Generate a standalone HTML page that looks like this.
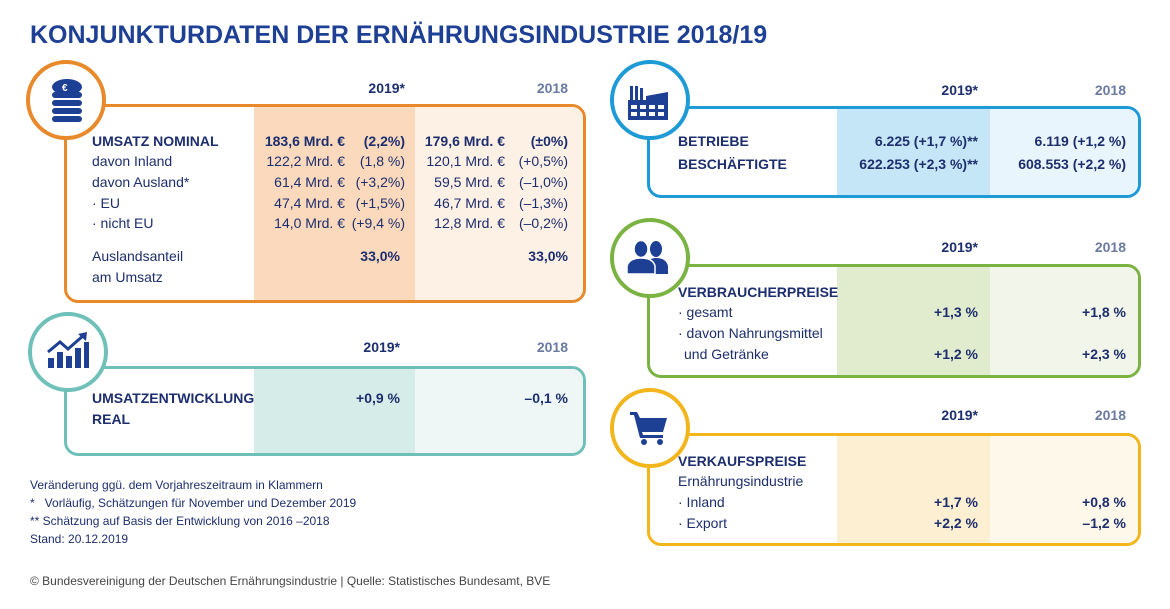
<!DOCTYPE html>
<html><head><meta charset="utf-8"><style>
body{margin:0;width:1170px;height:609px;background:#fff;position:relative;overflow:hidden;font-family:"Liberation Sans",sans-serif;color:#1d2e6e}
.a{position:absolute;white-space:nowrap;font-size:14px;line-height:18px}
.b{font-weight:bold}
.r{text-align:right}
.box{position:absolute;border:3px solid;border-radius:14px;overflow:hidden;box-sizing:border-box}
.col{position:absolute;top:0;bottom:0}
.circ{position:absolute;width:80px;height:80px;border-radius:50%;border:4px solid;background:#fff;box-sizing:border-box}
.h19{font-weight:bold;color:#1d2e6e}
.h18{font-weight:bold;color:#6a7aa0}
</style></head><body>
<div class="a b" style="left:30px;top:21px;font-size:25px;line-height:28px;color:#1d3f94">KONJUNKTURDATEN DER ERNÄHRUNGSINDUSTRIE 2018/19</div>

<!-- Box 1 -->
<div class="box" style="left:64px;top:104px;width:522px;height:199px;border-color:#e8892b">
 <div class="col" style="left:187px;width:161px;background:#fbd9bd"></div>
 <div class="col" style="left:348px;right:0;background:#fdf0e4"></div>
</div>
<div class="circ" style="left:26px;top:60px;border-color:#e8892b"></div>
<svg style="position:absolute;left:46px;top:78px" width="42" height="46" viewBox="0 0 42 46"><g fill="#1d3f94"><ellipse cx="21" cy="9" rx="15" ry="8"/><rect x="6" y="14" width="30" height="6" rx="3"/><rect x="6" y="22" width="30" height="6" rx="3"/><rect x="6" y="30" width="30" height="6" rx="3"/><rect x="6" y="38" width="30" height="6" rx="3"/></g><text x="16" y="13" fill="#fff" font-size="10" font-weight="bold" font-family="Liberation Sans">€</text></svg>
<div class="a h19 r" style="left:300px;width:105px;top:79px">2019*</div>
<div class="a h18 r" style="left:470px;width:98px;top:79px">2018</div>
<div class="a b" style="left:92px;top:132px">UMSATZ NOMINAL</div>
<div class="a" style="left:92px;top:152px">davon Inland</div>
<div class="a" style="left:92px;top:173px">davon Ausland*</div>
<div class="a" style="left:92px;top:194px">· EU</div>
<div class="a" style="left:92px;top:214px">· nicht EU</div>
<div class="a" style="left:92px;top:247px">Auslandsanteil</div>
<div class="a" style="left:92px;top:268px">am Umsatz</div>
<div class="a r b" style="left:240px;width:105px;top:132px">183,6 Mrd. €</div>
<div class="a r" style="left:240px;width:105px;top:152px">122,2 Mrd. €</div>
<div class="a r" style="left:240px;width:105px;top:173px">61,4 Mrd. €</div>
<div class="a r" style="left:240px;width:105px;top:194px">47,4 Mrd. €</div>
<div class="a r" style="left:240px;width:105px;top:214px">14,0 Mrd. €</div>
<div class="a r b" style="left:345px;width:60px;top:132px">(2,2%)</div>
<div class="a r" style="left:345px;width:60px;top:152px">(1,8 %)</div>
<div class="a r" style="left:345px;width:60px;top:173px">(+3,2%)</div>
<div class="a r" style="left:345px;width:60px;top:194px">(+1,5%)</div>
<div class="a r" style="left:345px;width:60px;top:214px">(+9,4 %)</div>
<div class="a r b" style="left:330px;width:70px;top:247px">33,0%</div>
<div class="a r b" style="left:400px;width:105px;top:132px">179,6 Mrd. €</div>
<div class="a r" style="left:400px;width:105px;top:152px">120,1 Mrd. €</div>
<div class="a r" style="left:400px;width:105px;top:173px">59,5 Mrd. €</div>
<div class="a r" style="left:400px;width:105px;top:194px">46,7 Mrd. €</div>
<div class="a r" style="left:400px;width:105px;top:214px">12,8 Mrd. €</div>
<div class="a r b" style="left:505px;width:63px;top:132px">(±0%)</div>
<div class="a r" style="left:505px;width:63px;top:152px">(+0,5%)</div>
<div class="a r" style="left:505px;width:63px;top:173px">(–1,0%)</div>
<div class="a r" style="left:505px;width:63px;top:194px">(–1,3%)</div>
<div class="a r" style="left:505px;width:63px;top:214px">(–0,2%)</div>
<div class="a r b" style="left:490px;width:78px;top:247px">33,0%</div>

<!-- Box 2 -->
<div class="box" style="left:64px;top:366px;width:522px;height:90px;border-color:#6fc0b8">
 <div class="col" style="left:187px;width:161px;background:#d6ece9"></div>
 <div class="col" style="left:348px;right:0;background:#eef7f5"></div>
</div>
<div class="circ" style="left:28px;top:312px;border-color:#6fc0b8"></div>
<svg style="position:absolute;left:46px;top:332px" width="44" height="38" viewBox="0 0 44 38"><g fill="#1d3f94"><rect x="2" y="26" width="6" height="10"/><rect x="11" y="20" width="6" height="16"/><rect x="20" y="24" width="6" height="12"/><rect x="29" y="16" width="6" height="20"/><rect x="38" y="10" width="5" height="26"/><polyline points="2,20 14,10 22,17 38,3" fill="none" stroke="#1d3f94" stroke-width="3"/><polygon points="32,2 41,0 40,9"/></g></svg>
<div class="a h19 r" style="left:300px;width:100px;top:338px">2019*</div>
<div class="a h18 r" style="left:470px;width:98px;top:338px">2018</div>
<div class="a b" style="left:92px;top:389px">UMSATZENTWICKLUNG</div>
<div class="a b" style="left:92px;top:410px">REAL</div>
<div class="a r b" style="left:300px;width:100px;top:389px">+0,9 %</div>
<div class="a r b" style="left:470px;width:98px;top:389px">–0,1 %</div>

<!-- notes -->
<div class="a" style="left:30px;top:476px;font-size:12px">Veränderung ggü. dem Vorjahreszeitraum in Klammern</div>
<div class="a" style="left:30px;top:494px;font-size:12px">*&nbsp;&nbsp; Vorläufig, Schätzungen für November und Dezember 2019</div>
<div class="a" style="left:30px;top:512px;font-size:12px">** Schätzung auf Basis der Entwicklung von 2016 –2018</div>
<div class="a" style="left:30px;top:530px;font-size:12px">Stand: 20.12.2019</div>
<div class="a" style="left:30px;top:572px;font-size:12px;color:#444">© Bundesvereinigung der Deutschen Ernährungsindustrie | Quelle: Statistisches Bundesamt, BVE</div>

<!-- Box 3 -->
<div class="box" style="left:647px;top:106px;width:494px;height:92px;border-color:#1e9ad6">
 <div class="col" style="left:187px;width:153px;background:#c5e6f7"></div>
 <div class="col" style="left:340px;right:0;background:#e8f5fc"></div>
</div>
<div class="circ" style="left:610px;top:60px;border-color:#1e9ad6"></div>
<svg style="position:absolute;left:628px;top:86px" width="42" height="34" viewBox="0 0 42 34"><g fill="#1d3f94"><rect x="2" y="0" width="3" height="14"/><rect x="7" y="0" width="3" height="14"/><rect x="12" y="2" width="3" height="12"/><polygon points="0,14 18,14 18,10 40,6 40,34 0,34"/></g><g fill="#fff"><rect x="3" y="19" width="6" height="4"/><rect x="12" y="19" width="6" height="4"/><rect x="21" y="19" width="6" height="4"/><rect x="30" y="19" width="6" height="4"/><rect x="3" y="26" width="6" height="4"/><rect x="12" y="26" width="6" height="4"/><rect x="21" y="26" width="6" height="4"/><rect x="30" y="26" width="6" height="4"/></g></svg>
<div class="a h19 r" style="left:880px;width:98px;top:81px">2019*</div>
<div class="a h18 r" style="left:1030px;width:96px;top:81px">2018</div>
<div class="a b" style="left:678px;top:132px">BETRIEBE</div>
<div class="a b" style="left:678px;top:155px">BESCHÄFTIGTE</div>
<div class="a r b" style="left:820px;width:158px;top:132px">6.225 (+1,7 %)**</div>
<div class="a r b" style="left:820px;width:158px;top:155px">622.253 (+2,3 %)**</div>
<div class="a r b" style="left:980px;width:146px;top:132px">6.119 (+1,2 %)</div>
<div class="a r b" style="left:980px;width:146px;top:155px">608.553 (+2,2 %)</div>

<!-- Box 4 -->
<div class="box" style="left:647px;top:264px;width:494px;height:114px;border-color:#7bb342">
 <div class="col" style="left:187px;width:153px;background:#e1eccf"></div>
 <div class="col" style="left:340px;right:0;background:#f2f6ea"></div>
</div>
<div class="circ" style="left:610px;top:218px;border-color:#7bb342"></div>
<svg style="position:absolute;left:626px;top:240px" width="44" height="34" viewBox="0 0 44 34"><g fill="#1d3f94"><ellipse cx="30" cy="9" rx="6" ry="8"/><path d="M20 34 V26 Q22 18 30 18 Q40 18 42 26 V34Z"/><ellipse cx="15" cy="9" rx="7" ry="8.5" stroke="#fff" stroke-width="1.5"/><path d="M1 34 V26 Q3 18 15 18 Q27 18 29 26 V34Z" stroke="#fff" stroke-width="1.5"/></g></svg>
<div class="a h19 r" style="left:880px;width:98px;top:238px">2019*</div>
<div class="a h18 r" style="left:1030px;width:96px;top:238px">2018</div>
<div class="a b" style="left:678px;top:283px">VERBRAUCHERPREISE</div>
<div class="a" style="left:678px;top:303px">· gesamt</div>
<div class="a" style="left:678px;top:324px">· davon Nahrungsmittel</div>
<div class="a" style="left:684px;top:345px">und Getränke</div>
<div class="a r b" style="left:880px;width:98px;top:303px">+1,3 %</div>
<div class="a r b" style="left:880px;width:98px;top:345px">+1,2 %</div>
<div class="a r b" style="left:1030px;width:96px;top:303px">+1,8 %</div>
<div class="a r b" style="left:1030px;width:96px;top:345px">+2,3 %</div>

<!-- Box 5 -->
<div class="box" style="left:647px;top:433px;width:494px;height:113px;border-color:#f2b51c">
 <div class="col" style="left:187px;width:153px;background:#fdefd2"></div>
 <div class="col" style="left:340px;right:0;background:#fef8ea"></div>
</div>
<div class="circ" style="left:610px;top:388px;border-color:#f2b51c"></div>
<svg style="position:absolute;left:630px;top:410px" width="38" height="36" viewBox="0 0 38 36"><g fill="#1d3f94"><polygon points="0,2 7,2 10,8 37,8 33,22 12,22 13,25 33,25 33,28 10,28 4,5 0,5"/><circle cx="14" cy="32" r="3"/><circle cx="30" cy="32" r="3"/></g></svg>
<div class="a h19 r" style="left:880px;width:98px;top:406px">2019*</div>
<div class="a h18 r" style="left:1030px;width:96px;top:406px">2018</div>
<div class="a b" style="left:678px;top:452px">VERKAUFSPREISE</div>
<div class="a" style="left:678px;top:472px">Ernährungsindustrie</div>
<div class="a" style="left:678px;top:493px">· Inland</div>
<div class="a" style="left:678px;top:514px">· Export</div>
<div class="a r b" style="left:880px;width:98px;top:493px">+1,7 %</div>
<div class="a r b" style="left:880px;width:98px;top:514px">+2,2 %</div>
<div class="a r b" style="left:1030px;width:96px;top:493px">+0,8 %</div>
<div class="a r b" style="left:1030px;width:96px;top:514px">–1,2 %</div>
</body></html>
